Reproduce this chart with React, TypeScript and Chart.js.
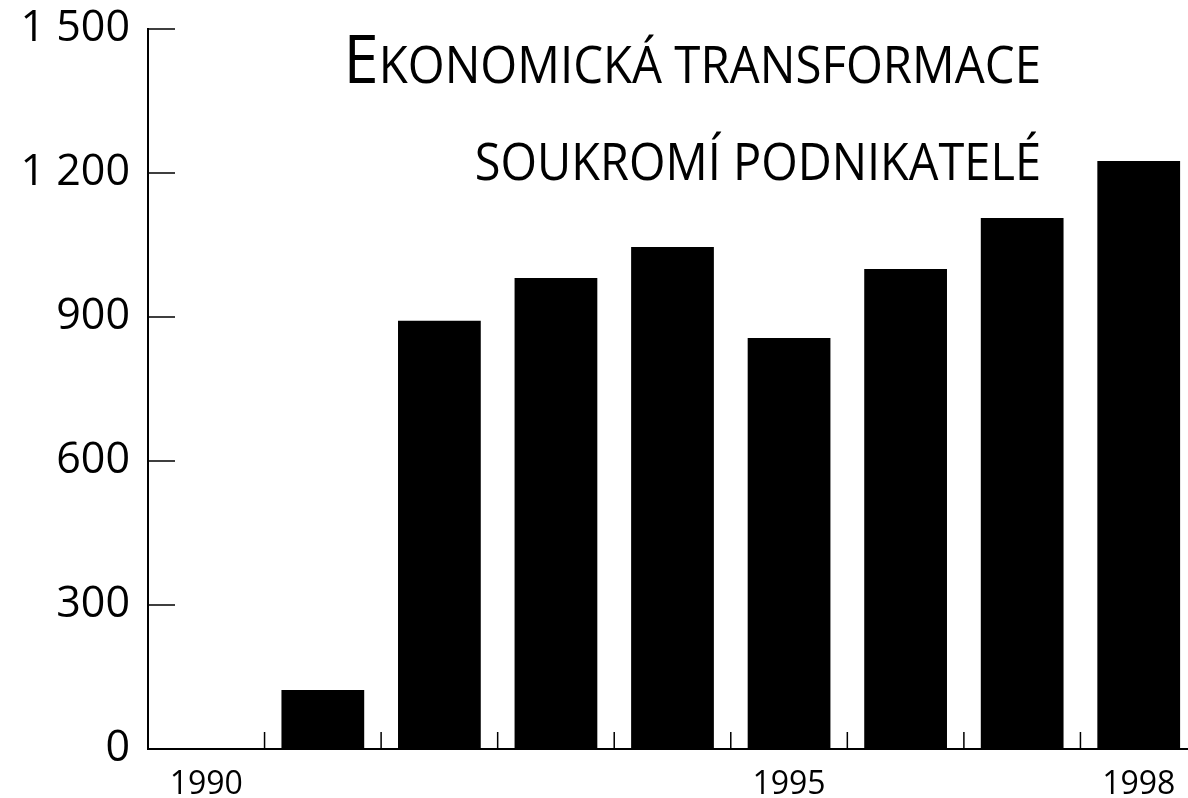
import React, { useEffect, useRef } from 'react';
import { Chart, registerables } from 'chart.js';

Chart.register(...registerables);

const years = ['1990', '1991', '1992', '1993', '1994', '1995', '1996', '1997', '1998'];
const entrepreneurs = [0, 123, 892, 981, 1046, 856, 1000, 1106, 1225];
const labeledYears = ['1990', '1995', '1998'];
const yMin = 0;
const yMax = 1500;
const yStep = 300;
const titleFirst = 'E';
const titleRest = 'konomická transformace';
const subtitle = 'soukromí podnikatelé';

const FONT = '"Open Sans", "Noto Sans", sans-serif';

function fmt(v: number): string {
  if (v >= 1000) {
    return `${Math.floor(v / 1000)} ${String(v % 1000).padStart(3, '0')}`;
  }
  return String(v);
}

const decorPlugin = {
  id: 'decor',
  beforeDatasetsDraw(chart: any) {
    const ctx = chart.ctx as CanvasRenderingContext2D;
    const { left, bottom } = chart.chartArea;
    const ys = chart.scales.y;
    const xs = chart.scales.x;
    ctx.save();
    ctx.strokeStyle = '#000';
    ctx.lineWidth = 1.5;
    ctx.beginPath();
    ys.ticks.forEach((t: any) => {
      const py = ys.getPixelForValue(t.value);
      ctx.moveTo(left, py);
      ctx.lineTo(left + 27, py);
    });
    for (let i = 1; i < years.length; i++) {
      const px = (xs.getPixelForValue(i - 1) + xs.getPixelForValue(i)) / 2;
      ctx.moveTo(px, bottom);
      ctx.lineTo(px, bottom - 17);
    }
    ctx.stroke();
    ctx.restore();
  },
  afterDraw(chart: any) {
    const ctx = chart.ctx as CanvasRenderingContext2D;
    const { right, top } = chart.chartArea;
    const rx = right - 156;
    ctx.save();
    ctx.fillStyle = '#000';
    ctx.textBaseline = 'alphabetic';
    ctx.textAlign = 'left';
    ctx.translate(rx, 0);
    ctx.scale(0.93, 1);
    const bigFont = `400 68px ${FONT}`;
    const smallFont = `400 51px ${FONT}`;
    ctx.font = bigFont;
    const w1 = ctx.measureText(titleFirst).width;
    ctx.font = smallFont;
    const restUp = titleRest.toUpperCase();
    const w2 = ctx.measureText(restUp).width;
    const startX = -(w1 + w2);
    ctx.font = bigFont;
    ctx.fillText(titleFirst, startX, top + 54);
    ctx.font = smallFont;
    ctx.fillText(restUp, startX + w1, top + 54);
    ctx.setTransform(1, 0, 0, 1, 0, 0);
    ctx.translate(rx, 0);
    ctx.scale(0.92, 1);
    ctx.textAlign = 'right';
    ctx.font = smallFont;
    ctx.fillText(subtitle.toUpperCase(), 0, top + 151);
    ctx.restore();
  },
};

export default function App() {
  const ref = useRef<HTMLCanvasElement | null>(null);
  useEffect(() => {
    if (!ref.current) return;
    const chart = new Chart(ref.current, {
      type: 'bar',
      data: {
        labels: years,
        datasets: [
          {
            data: entrepreneurs,
            backgroundColor: '#000',
            borderWidth: 0,
            barPercentage: 0.71,
            categoryPercentage: 1.0,
          },
        ],
      },
      options: {
        responsive: false,
        animation: false,
        devicePixelRatio: 1,
        layout: { padding: { top: 29, right: 0, bottom: 0, left: 0 } },
        plugins: {
          legend: { display: false },
          tooltip: { enabled: false },
          title: { display: false },
        },
        scales: {
          x: {
            type: 'category',
            offset: true,
            grid: { display: false, drawTicks: false, offset: true },
            border: { display: true, color: '#000', width: 2 },
            ticks: {
              autoSkip: false,
              maxRotation: 0,
              padding: 17,
              color: '#000',
              font: { family: FONT, size: 32 },
              callback: (_v: any, i: number) => (labeledYears.includes(years[i]) ? years[i] : ''),
            },
            afterFit: (s: any) => {
              s.height = 49;
            },
          },
          y: {
            min: yMin,
            max: yMax,
            grid: { display: false, drawTicks: false },
            border: { display: true, color: '#000', width: 2 },
            ticks: {
              stepSize: yStep,
              padding: 18,
              color: '#000',
              font: { family: FONT, size: 43, lineHeight: 0.4 },
              callback: (v: any) => fmt(Number(v)),
            },
            afterFit: (s: any) => {
              s.width = 148;
            },
          },
        },
      },
      plugins: [decorPlugin],
    });
    return () => chart.destroy();
  }, []);
  return (
    <div
      style={{
        position: 'fixed',
        left: 0,
        top: 0,
        width: 1188,
        height: 798,
        overflow: 'hidden',
        background: '#fff',
      }}
    >
      <canvas ref={ref} width={1197} height={798} style={{ display: 'block' }} />
    </div>
  );
}
